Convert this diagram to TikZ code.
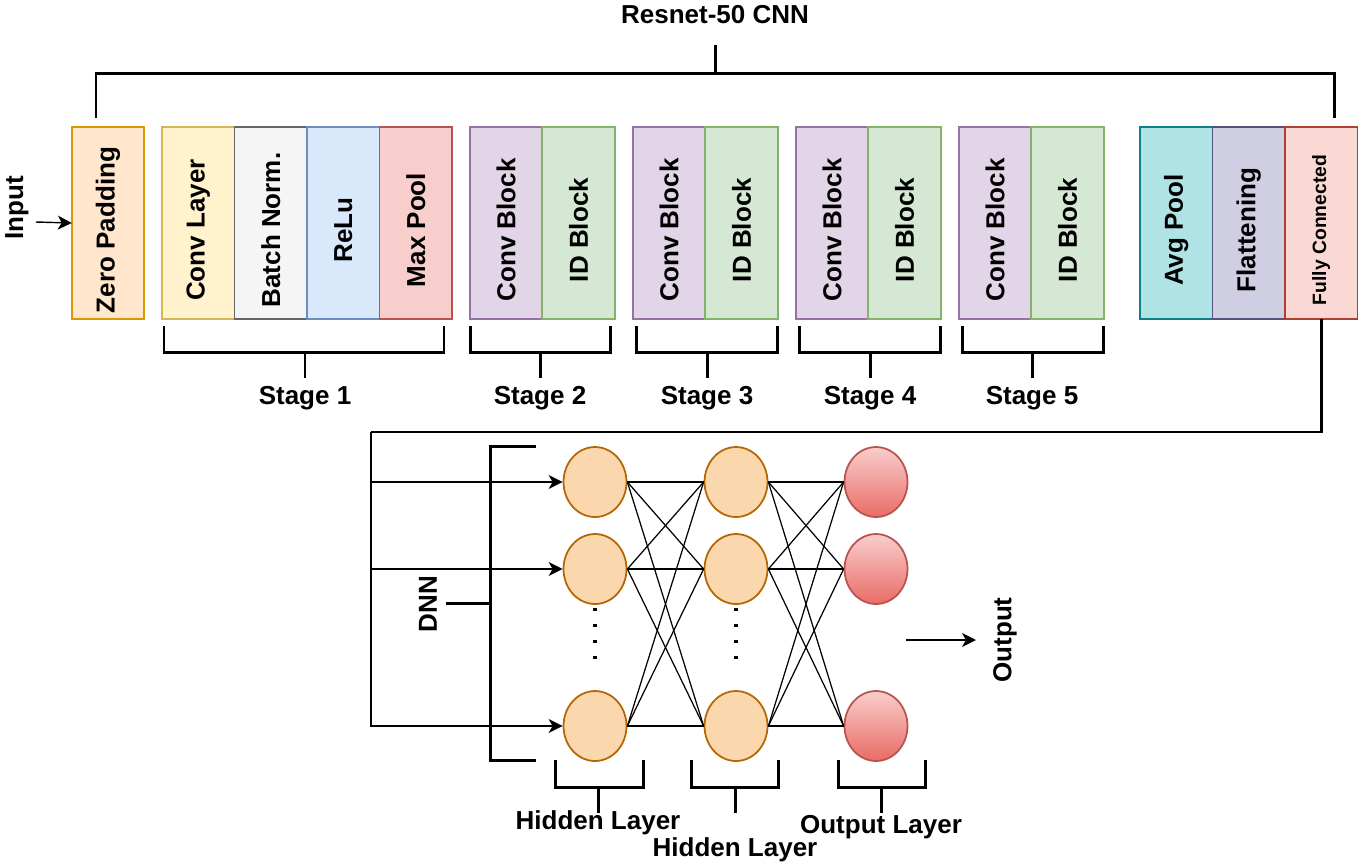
\documentclass[tikz,border=0pt]{standalone}
\usepackage{fontspec}
\setmainfont{Liberation Sans}
\usepackage{xcolor}
\usepackage{tikz}
\usetikzlibrary{positioning,shapes.geometric,arrows.meta}

\definecolor{zpfill}{HTML}{FFE6CC}\definecolor{zpline}{HTML}{D79B00}
\definecolor{cvfill}{HTML}{FFF2CC}\definecolor{cvline}{HTML}{D6B656}
\definecolor{bnfill}{HTML}{F5F5F5}\definecolor{bnline}{HTML}{666666}
\definecolor{rlfill}{HTML}{DAE8FC}\definecolor{rlline}{HTML}{6C8EBF}
\definecolor{mpfill}{HTML}{F8CECC}\definecolor{mpline}{HTML}{B85450}
\definecolor{cbfill}{HTML}{E1D5E7}\definecolor{cbline}{HTML}{9673A6}
\definecolor{idfill}{HTML}{D5E8D4}\definecolor{idline}{HTML}{82B366}
\definecolor{apfill}{HTML}{B0E3E6}\definecolor{apline}{HTML}{0E8088}
\definecolor{flfill}{HTML}{D0CEE2}\definecolor{flline}{HTML}{56517E}
\definecolor{fcfill}{HTML}{FAD9D5}\definecolor{fcline}{HTML}{AE4132}
\definecolor{hnfill}{HTML}{FAD7AC}\definecolor{hnline}{HTML}{B46504}
\definecolor{ontop}{HTML}{F8CECC}\definecolor{onbot}{HTML}{EA6B66}

\newcommand{\vlab}[1]{\rotatebox{90}{#1\hspace{0.28cm}}}

\tikzset{
	blk/.style={draw, outer sep=0pt, inner sep=0pt, line width=1pt, minimum width=1.45cm, minimum height=3.84cm, font=\fontsize{14.8}{17}\selectfont\bfseries},
	lbl/.style={font=\fontsize{14.8}{17}\selectfont\bfseries},
	brk/.style={line width=1.7pt},
	net/.style={line width=0.7pt},
	bus/.style={line width=1.6pt},
	arr/.style={line width=0.8pt, -{Stealth[length=0.28cm, width=0.28cm, inset=0.08cm]}},
	hid/.style={ellipse, draw=hnline, fill=hnfill, line width=1pt, minimum width=1.26cm, minimum height=1.4cm, inner sep=0pt},
	outn/.style={ellipse, draw=mpline, top color=ontop, bottom color=onbot, line width=1pt, minimum width=1.26cm, minimum height=1.4cm, inner sep=0pt},
}

\begin{document}
\begin{tikzpicture}[x=0.02cm, y=-0.02cm]
	\useasboundingbox (0,0) rectangle (1372,867);
	% cnn blocks
	\node[blk, fill=zpfill, draw=zpline] (zp) at (108,223) {\vlab{Zero Padding}};
	\node[blk, fill=cvfill, draw=cvline] (cl) at (198.25,223) {\vlab{Conv Layer}};
	\node[blk, fill=bnfill, draw=bnline, right=0pt of cl] (bn) {\vlab{Batch Norm.}};
	\node[blk, fill=rlfill, draw=rlline, right=0pt of bn] (rl) {\vlab{ReLu}};
	\node[blk, fill=mpfill, draw=mpline, right=0pt of rl] (mp) {\vlab{Max Pool}};
	\foreach \i/\x in {2/506,3/669,4/832,5/995}{
		\node[blk, fill=cbfill, draw=cbline] (cb\i) at (\x,223) {\vlab{Conv Block}};
		\node[blk, fill=idfill, draw=idline, right=0pt of cb\i] (id\i) {\vlab{ID Block}};
	}
	\node[blk, fill=apfill, draw=apline] (ap) at (1176.25,223) {\vlab{Avg Pool}};
	\node[blk, fill=flfill, draw=flline, right=0pt of ap] (fl) {\vlab{Flattening}};
	\node[blk, fill=fcfill, draw=fcline, right=0pt of fl, font=\fontsize{11}{13}\selectfont\bfseries] (fc) {\vlab{Fully Connected}};

	% brackets
	\draw[brk] (96,118) |- (1334,73) -- (1334,118);
	\draw[brk] (715,73) -- (715,45);
	\node[lbl] (cnn) at (715,15) {Resnet-50 CNN};
	\foreach \a/\b/\m/\i in {164/444/305/1, 470/610/540/2, 636/777/707/3, 799/940/870/4, 962/1103/1032/5}{
		\draw[brk] (\a,326) |- (\b,352) -- (\b,326);
		\draw[brk] (\m,352) -- (\m,378);
		\node[lbl] (st\i) at (\m,398) {Stage \i};
	}

	% input
	\node[lbl, rotate=90] (in) at (17,208) {Input};
	\coordinate (inp) at (36,222);
	\draw[arr] (inp) -- (zp.west);

	% dnn
	\foreach \j/\y in {1/482,2/569,3/726}{
		\node[hid] (ha\j) at (595,\y) {};
		\node[hid] (hb\j) at (736,\y) {};
		\node[outn] (o\j) at (876,\y) {};
	}
	\foreach \i in {1,2,3}
		\foreach \j in {1,2,3}{
			\draw[net] (ha\i.east) -- (hb\j.west);
			\draw[net] (hb\i.east) -- (o\j.west);
		}
	\draw[line width=2.2pt, dash pattern=on 0.06cm off 0.26cm] ([yshift=-0.06cm]ha2.south) -- ([yshift=0.38cm]ha3.north);
	\draw[line width=2.2pt, dash pattern=on 0.06cm off 0.26cm] ([yshift=-0.06cm]hb2.south) -- ([yshift=0.38cm]hb3.north);

	\coordinate (bus) at (371,432);
	\draw[bus] (fc.south) |- (bus);
	\foreach \j in {1,2,3}
		\draw[arr] (bus) |- (ha\j.west);

	\draw[brk] (536,446) -| (490,760) -- (536,760);
	\draw[brk] (490,603) -- (446,603);
	\node[lbl, rotate=90] (dnn) at (428,604) {DNN};

	\foreach \a/\b/\m/\t/\ly/\n in {555/643/598/Hidden Layer/823/l1, 691/778/735/Hidden Layer/850/l2, 838/925/881/Output Layer/827/l3}{
		\draw[brk] (\a,760) |- (\b,787) -- (\b,760);
		\draw[brk] (\m,787) -- (\m,813);
		\node[lbl] (\n) at (\m,\ly) {\t};
	}

	% output
	\coordinate (oa) at (906,640);
	\node[lbl, rotate=90] (out) at (1005,640) {Output};
	\draw[arr, shorten >=0.22cm] (oa) -- (out.north);
\end{tikzpicture}
\end{document}
